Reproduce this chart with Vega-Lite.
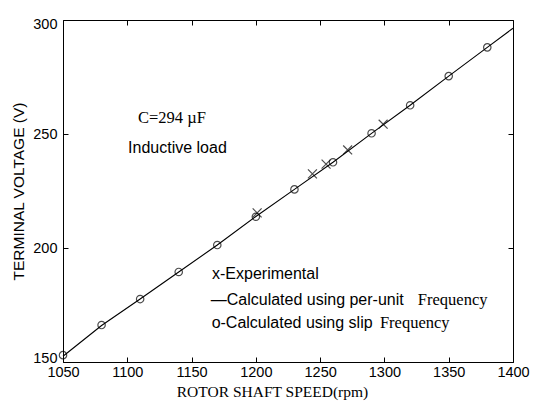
{
  "$schema": "https://vega.github.io/schema/vega-lite/v6.json",
  "width": 450,
  "height": 342,
  "autosize": {"type": "none"},
  "padding": {"left": 63, "top": 20, "right": 23, "bottom": 41},
  "background": "white",
  "config": {
    "view": {"stroke": "black", "strokeWidth": 1},
    "axis": {
      "grid": false,
      "domain": false,
      "tickColor": "black",
      "tickSize": -5,
      "labelColor": "black",
      "labelFont": "Liberation Sans",
      "labelFontSize": 14.5,
      "labelFlush": false,
      "labelOverlap": false,
      "format": "d",
      "titleColor": "black",
      "titleFontWeight": "normal"
    }
  },
  "datasets": {
    "calc": [
      {"speed": 1050, "voltage": 152.5},
      {"speed": 1080, "voltage": 166.0},
      {"speed": 1110, "voltage": 177.6},
      {"speed": 1140, "voltage": 189.5},
      {"speed": 1170, "voltage": 201.3},
      {"speed": 1200, "voltage": 213.8},
      {"speed": 1230, "voltage": 225.7},
      {"speed": 1260, "voltage": 237.6},
      {"speed": 1290, "voltage": 250.3},
      {"speed": 1320, "voltage": 262.6},
      {"speed": 1350, "voltage": 275.4},
      {"speed": 1380, "voltage": 288.0},
      {"speed": 1400, "voltage": 296.4}
    ],
    "slip": [
      {"speed": 1050, "voltage": 153.0},
      {"speed": 1080, "voltage": 166.2},
      {"speed": 1110, "voltage": 177.6},
      {"speed": 1140, "voltage": 189.5},
      {"speed": 1170, "voltage": 201.3},
      {"speed": 1200, "voltage": 213.7},
      {"speed": 1230, "voltage": 225.7},
      {"speed": 1260, "voltage": 237.6},
      {"speed": 1290, "voltage": 250.3},
      {"speed": 1320, "voltage": 262.6},
      {"speed": 1350, "voltage": 275.4},
      {"speed": 1380, "voltage": 288.0}
    ],
    "exp": [
      {"speed": 1201, "voltage": 215.4},
      {"speed": 1244, "voltage": 232.5},
      {"speed": 1254.6, "voltage": 236.8},
      {"speed": 1271.4, "voltage": 243.0},
      {"speed": 1299, "voltage": 254.3}
    ],
    "sans": [
      {"speed": 1100.6, "voltage": 244.0, "label": "Inductive load"},
      {"speed": 1165.9, "voltage": 188.8, "label": "x-Experimental"},
      {"speed": 1164.9, "voltage": 177.0, "label": "—Calculated using per-unit"},
      {"speed": 1165.6, "voltage": 167.3, "label": "o-Calculated using slip"}
    ],
    "serif": [
      {"speed": 1108.3, "voltage": 257.0, "label": "C=294 µF"},
      {"speed": 1326.0, "voltage": 177.0, "label": "Frequency"},
      {"speed": 1296.5, "voltage": 167.3, "label": "Frequency"}
    ]
  },
  "layer": [
    {
      "data": {"name": "calc"},
      "mark": {"type": "line", "color": "black", "strokeWidth": 1.1},
      "encoding": {
        "x": {
          "field": "speed", "type": "quantitative",
          "scale": {"domain": [1050, 1400], "nice": false, "zero": false},
          "axis": {
            "orient": "bottom",
            "values": [1050, 1100, 1150, 1200, 1250, 1300, 1350, 1400],
            "labelPadding": 8,
            "title": "ROTOR SHAFT SPEED(rpm)",
            "titleFont": "Liberation Serif",
            "titleFontSize": 15.5,
            "titlePadding": 6,
            "titleX": 209,
            "titleAlign": "center"
          }
        },
        "y": {
          "field": "voltage", "type": "quantitative",
          "scale": {"domain": [150, 300], "nice": false, "zero": false},
          "axis": {
            "orient": "left",
            "values": [150, 200, 250, 300],
            "labelPadding": 11,
            "labelFlush": true,
            "labelFlushOffset": 3,
            "title": "TERMINAL VOLTAGE (V)",
            "titleFont": "Liberation Sans",
            "titleFontSize": 15.5,
            "titlePadding": 6
          }
        }
      }
    },
    {
      "data": {"name": "slip"},
      "mark": {"type": "point", "shape": "circle", "color": "black", "filled": false, "size": 55, "strokeWidth": 1.2},
      "encoding": {
        "x": {
          "field": "speed", "type": "quantitative",
          "scale": {"domain": [1050, 1400], "nice": false, "zero": false},
          "axis": {"orient": "top", "values": [1050, 1100, 1150, 1200, 1250, 1300, 1350, 1400], "labels": false, "title": null}
        },
        "y": {
          "field": "voltage", "type": "quantitative",
          "scale": {"domain": [150, 300], "nice": false, "zero": false},
          "axis": {"orient": "right", "values": [150, 200, 250, 300], "labels": false, "title": null}
        }
      }
    },
    {
      "data": {"name": "exp"},
      "mark": {"type": "point", "shape": "M-1,-1L1,1M1,-1L-1,1", "color": "black", "filled": false, "size": 80, "strokeWidth": 1.2},
      "encoding": {
        "x": {"field": "speed", "type": "quantitative", "scale": {"domain": [1050, 1400], "nice": false, "zero": false}, "axis": null},
        "y": {"field": "voltage", "type": "quantitative", "scale": {"domain": [150, 300], "nice": false, "zero": false}, "axis": null}
      }
    },
    {
      "data": {"name": "sans"},
      "mark": {"type": "text", "align": "left", "baseline": "middle", "font": "Liberation Sans", "fontSize": 16, "color": "black"},
      "encoding": {
        "x": {"field": "speed", "type": "quantitative", "scale": {"domain": [1050, 1400], "nice": false, "zero": false}, "axis": null},
        "y": {"field": "voltage", "type": "quantitative", "scale": {"domain": [150, 300], "nice": false, "zero": false}, "axis": null},
        "text": {"field": "label"}
      }
    },
    {
      "data": {"name": "serif"},
      "mark": {"type": "text", "align": "left", "baseline": "middle", "font": "Liberation Serif", "fontSize": 16.5, "color": "black"},
      "encoding": {
        "x": {"field": "speed", "type": "quantitative", "scale": {"domain": [1050, 1400], "nice": false, "zero": false}, "axis": null},
        "y": {"field": "voltage", "type": "quantitative", "scale": {"domain": [150, 300], "nice": false, "zero": false}, "axis": null},
        "text": {"field": "label"}
      }
    }
  ],
  "resolve": {"axis": {"x": "independent", "y": "independent"}}
}
